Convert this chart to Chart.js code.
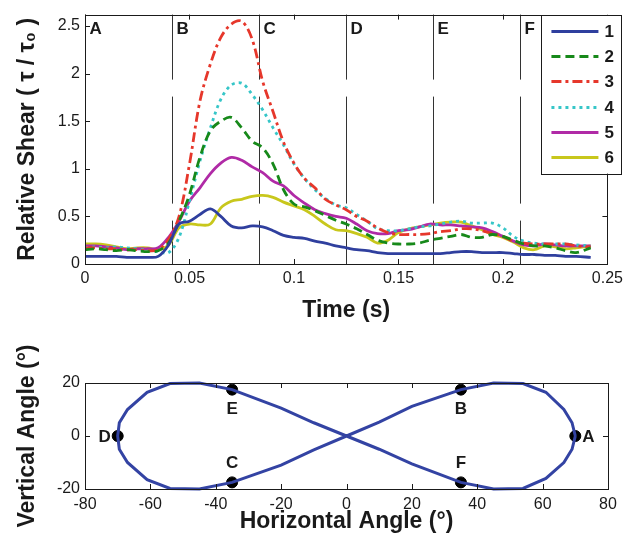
<!DOCTYPE html>
<html>
<head>
<meta charset="utf-8">
<script src="https://cdn.jsdelivr.net/npm/chart.js@4.4.0/dist/chart.umd.min.js"></script>
<style>
  body { margin: 0; background: #fff; }
  #wrap { position: relative; width: 628px; height: 545px; }
  canvas { position: absolute; left: 0; }
  #shear { top: 0; }
  #path { top: 300px; }
</style>
</head>
<body>
<div id="wrap">
  <canvas id="shear" width="628" height="340"></canvas>
  <canvas id="path" width="628" height="245"></canvas>
</div>
<script>
// ---- top plot: relative shear vs time ----
const time = [0, 0.005, 0.01, 0.015, 0.02, 0.025, 0.03, 0.035, 0.04, 0.045,
  0.05, 0.055, 0.06, 0.065, 0.07, 0.075, 0.08, 0.085, 0.09, 0.095,
  0.1, 0.105, 0.11, 0.115, 0.12, 0.125, 0.13, 0.135, 0.14, 0.145,
  0.15, 0.155, 0.16, 0.165, 0.17, 0.175, 0.18, 0.185, 0.19, 0.195,
  0.2, 0.205, 0.21, 0.215, 0.22, 0.225, 0.23, 0.235, 0.242];

const shear1 = [0.08, 0.08, 0.08, 0.08, 0.07, 0.07, 0.07, 0.08, 0.20, 0.42,
  0.45, 0.52, 0.58, 0.50, 0.40, 0.38, 0.40, 0.39, 0.35, 0.30,
  0.28, 0.27, 0.24, 0.22, 0.19, 0.17, 0.15, 0.14, 0.12, 0.11,
  0.11, 0.11, 0.11, 0.11, 0.11, 0.12, 0.13, 0.13, 0.12, 0.12,
  0.12, 0.11, 0.10, 0.10, 0.09, 0.09, 0.08, 0.08, 0.07];
const shear2 = [0.15, 0.16, 0.15, 0.14, 0.15, 0.14, 0.13, 0.14, 0.22, 0.45,
  0.73, 1.12, 1.40, 1.50, 1.54, 1.43, 1.29, 1.22, 1.05, 0.78,
  0.63, 0.60, 0.56, 0.51, 0.46, 0.42, 0.37, 0.31, 0.25, 0.22,
  0.21, 0.21, 0.22, 0.25, 0.27, 0.29, 0.31, 0.28, 0.28, 0.31,
  0.29, 0.25, 0.21, 0.19, 0.19, 0.17, 0.14, 0.12, 0.17];
const shear3 = [0.17, 0.17, 0.16, 0.16, 0.15, 0.15, 0.14, 0.15, 0.26, 0.50,
  1.05, 1.71, 2.10, 2.38, 2.52, 2.55, 2.36, 1.92, 1.60, 1.28,
  1.06, 0.90, 0.80, 0.68, 0.62, 0.57, 0.50, 0.45, 0.38, 0.33,
  0.31, 0.31, 0.31, 0.32, 0.34, 0.35, 0.37, 0.37, 0.35, 0.32,
  0.29, 0.24, 0.22, 0.21, 0.21, 0.21, 0.21, 0.19, 0.18];
const shear4 = [0.17, 0.18, 0.17, 0.18, 0.17, 0.16, 0.14, 0.13, 0.12, 0.28,
  0.66, 1.08, 1.43, 1.73, 1.88, 1.90, 1.78, 1.62, 1.43, 1.25,
  1.05, 0.90, 0.78, 0.69, 0.62, 0.59, 0.52, 0.45, 0.37, 0.35,
  0.35, 0.37, 0.39, 0.40, 0.42, 0.44, 0.45, 0.43, 0.43, 0.43,
  0.38, 0.29, 0.24, 0.22, 0.21, 0.21, 0.21, 0.20, 0.19];
const shear5 = [0.19, 0.19, 0.18, 0.17, 0.15, 0.16, 0.16, 0.17, 0.28, 0.45,
  0.66, 0.80, 0.95, 1.06, 1.12, 1.09, 1.02, 0.96, 0.87, 0.82,
  0.72, 0.64, 0.57, 0.53, 0.50, 0.48, 0.42, 0.35, 0.32, 0.32,
  0.35, 0.36, 0.39, 0.42, 0.41, 0.41, 0.40, 0.39, 0.38, 0.34,
  0.29, 0.24, 0.20, 0.19, 0.21, 0.20, 0.19, 0.19, 0.19];
const shear6 = [0.21, 0.21, 0.20, 0.18, 0.16, 0.17, 0.17, 0.15, 0.20, 0.38,
  0.42, 0.41, 0.42, 0.59, 0.66, 0.68, 0.71, 0.72, 0.70, 0.65,
  0.61, 0.57, 0.50, 0.42, 0.36, 0.35, 0.32, 0.28, 0.22, 0.25,
  0.33, 0.37, 0.39, 0.41, 0.43, 0.44, 0.44, 0.40, 0.36, 0.31,
  0.28, 0.23, 0.17, 0.15, 0.19, 0.18, 0.16, 0.17, 0.19];

const seriesNames = ['1', '2', '3', '4', '5', '6'];
const timeTicks = [0, 0.05, 0.1, 0.15, 0.2, 0.25];
const shearTicks = [0, 0.5, 1, 1.5, 2, 2.5];
const phaseNames = ['A', 'B', 'C', 'D', 'E', 'F'];
const phaseTimes = [0, 0.0417, 0.0833, 0.125, 0.1667, 0.2083];

// ---- bottom plot: figure-eight path ----
const pathH = [70, 69, 66.5, 61, 54, 45, 35, 20, 10, 0, -10, -20, -35, -45, -54, -61, -67, -69.5, -70,
  -69.5, -67, -61, -54, -45, -35, -20, -10, 0, 10, 20, 35, 45, 54, 61, 66.5, 69, 70];
const pathV = [0, -5, -10, -16, -19.8, -20, -17.5, -10.5, -5, 0, 5, 10.5, 17.5, 20, 19.8, 16.5, 10, 5, 0,
  -5, -10, -16.5, -19.8, -20, -17.5, -11, -5.2, 0, 5.2, 11.2, 17.5, 20, 19.8, 16.5, 10, 5, 0];
const pointH = [70, 35, -35, -70, -35, 35];
const pointV = [0, 17.5, -17.5, 0, 17.5, -17.5];
const angleTicksH = [-80, -60, -40, -20, 0, 20, 40, 60, 80];
const angleTicksV = [-20, 0, 20];

const FONT = "'Liberation Sans', Arial, sans-serif";
const INK = '#1a1a1a';

const colors = ['#2f3f9e', '#17891a', '#e6372b', '#36c6c8', '#b02aa6', '#c8c71c'];
const dashes = [[], [9, 5], [10, 4, 3, 4], [3, 4], [], []];

// inward tick marks on all four sides plus the box
const boxTicks = {
  id: 'boxTicks',
  afterDatasetsDraw(chart) {
    const { ctx, chartArea: a, scales: { x, y } } = chart;
    ctx.save();
    ctx.strokeStyle = INK;
    ctx.lineWidth = 1;
    ctx.setLineDash([]);
    ctx.beginPath();
    x.ticks.forEach(t => {
      const px = Math.round(x.getPixelForValue(t.value)) + 0.5;
      ctx.moveTo(px, a.bottom); ctx.lineTo(px, a.bottom - 5);
      ctx.moveTo(px, a.top); ctx.lineTo(px, a.top + 5);
    });
    y.ticks.forEach(t => {
      const py = Math.round(y.getPixelForValue(t.value)) + 0.5;
      ctx.moveTo(a.left, py); ctx.lineTo(a.left + 5, py);
      ctx.moveTo(a.right, py); ctx.lineTo(a.right - 5, py);
    });
    ctx.stroke();
    ctx.strokeRect(Math.round(a.left) + 0.5, Math.round(a.top) + 0.5,
      Math.round(a.right - a.left), Math.round(a.bottom - a.top));
    ctx.restore();
  }
};

// phase lines A-F across the shear plot
const phaseLines = {
  id: 'phaseLines',
  beforeDatasetsDraw(chart) {
    const { ctx, chartArea: a, scales: { x } } = chart;
    ctx.save();
    ctx.strokeStyle = '#333';
    ctx.lineWidth = 1;
    ctx.font = 'bold 17px ' + FONT;
    ctx.fillStyle = INK;
    ctx.textBaseline = 'middle';
    phaseTimes.forEach((t, i) => {
      const px = Math.round(x.getPixelForValue(t)) + 0.5;
      ctx.setLineDash([65, 17, 107, 17, 200]);
      ctx.beginPath();
      ctx.moveTo(px, a.top);
      ctx.lineTo(px, a.bottom);
      ctx.stroke();
      ctx.fillText(phaseNames[i], px + 4, a.top + 15);
    });
    ctx.restore();
  }
};

// boxed legend in the top-right corner
const boxLegend = {
  id: 'boxLegend',
  afterDraw(chart) {
    const { ctx, chartArea: a } = chart;
    const left = a.right - 66, top = a.top, w = 80, h = 159;
    ctx.save();
    ctx.fillStyle = '#fff';
    ctx.fillRect(left, top, w, h);
    ctx.strokeStyle = INK;
    ctx.lineWidth = 1;
    ctx.strokeRect(Math.round(left) + 0.5, Math.round(top) + 0.5, w, h);
    ctx.font = 'bold 17px ' + FONT;
    ctx.textBaseline = 'middle';
    chart.data.datasets.forEach((ds, i) => {
      const y = Math.round(top + 16 + i * 25.3) + 0.5;
      ctx.strokeStyle = ds.borderColor;
      ctx.lineWidth = 3;
      ctx.setLineDash(ds.borderDash);
      ctx.beginPath();
      ctx.moveTo(left + 10, y);
      ctx.lineTo(left + 57, y);
      ctx.stroke();
      ctx.fillStyle = INK;
      ctx.fillText(ds.label, left + 63, y + 1);
    });
    ctx.restore();
  }
};

// letters next to the path points
const pointLetters = {
  id: 'pointLetters',
  afterDatasetsDraw(chart) {
    const { ctx } = chart;
    const offsets = { A: [7, 0, 'left'], B: [0, 19, 'center'], C: [0, -20, 'center'],
      D: [-7, 0, 'right'], E: [0, 19, 'center'], F: [0, -20, 'center'] };
    const meta = chart.getDatasetMeta(1);
    ctx.save();
    ctx.font = 'bold 17px ' + FONT;
    ctx.fillStyle = INK;
    ctx.textBaseline = 'middle';
    meta.data.forEach((pt, i) => {
      const o = offsets[phaseNames[i]];
      ctx.textAlign = o[2];
      ctx.fillText(phaseNames[i], pt.x + o[0], pt.y + o[1] + 1);
    });
    ctx.restore();
  }
};

const shearSets = [shear1, shear2, shear3, shear4, shear5, shear6].map((vals, i) => ({
  label: seriesNames[i],
  data: vals.map((v, j) => ({ x: time[j], y: v })),
  borderColor: colors[i],
  borderDash: dashes[i],
  borderWidth: 2.8,
  pointRadius: 0,
  tension: 0.35,
  fill: false
}));

const tickFont = { family: FONT, size: 16 };
const titleFont = { family: FONT, size: 23, weight: 'bold' };

new Chart(document.getElementById('shear'), {
  type: 'line',
  data: { datasets: shearSets },
  options: {
    responsive: false,
    animation: false,
    layout: { padding: { top: 13, right: 20, left: 0, bottom: 0 } },
    plugins: { legend: { display: false }, tooltip: { enabled: false } },
    scales: {
      x: {
        type: 'linear',
        min: 0, max: 0.25,
        grid: { display: false, drawTicks: false },
        border: { display: false },
        afterBuildTicks: s => { s.ticks = timeTicks.map(v => ({ value: v })); },
        afterFit: s => { s.height = 76; },
        ticks: { font: tickFont, color: INK, padding: 5, maxRotation: 0,
          callback: v => String(v) },
        title: { display: true, text: 'Time (s)', font: titleFont, color: INK,
          padding: { top: 0, bottom: 16 } }
      },
      y: {
        min: 0, max: 2.62,
        grid: { display: false, drawTicks: false },
        border: { display: false },
        afterBuildTicks: s => { s.ticks = shearTicks.map(v => ({ value: v })); },
        afterFit: s => { s.width = 85; },
        ticks: { font: tickFont, color: INK, padding: 5, callback: v => String(v) },
        title: { display: true, text: 'Relative Shear ( τ / τ₀ )', font: titleFont, color: INK,
          padding: { top: 14, bottom: 0 } }
      }
    }
  },
  plugins: [phaseLines, boxTicks, boxLegend]
});

new Chart(document.getElementById('path'), {
  type: 'scatter',
  data: {
    datasets: [
      {
        data: pathH.map((h, i) => ({ x: h, y: pathV[i] })),
        showLine: true,
        borderColor: '#3343a3',
        borderWidth: 3,
        pointRadius: 0,
        tension: 0,
        clip: false
      },
      {
        data: pointH.map((h, i) => ({ x: h, y: pointV[i] })),
        pointRadius: 5.5,
        pointBackgroundColor: '#000',
        pointBorderColor: '#000',
        showLine: false,
        clip: false
      }
    ]
  },
  options: {
    responsive: false,
    animation: false,
    layout: { padding: { top: 83, right: 20, left: 0, bottom: 0 } },
    plugins: { legend: { display: false }, tooltip: { enabled: false } },
    scales: {
      x: {
        type: 'linear',
        min: -80, max: 80,
        grid: { display: false, drawTicks: false },
        border: { display: false },
        afterBuildTicks: s => { s.ticks = angleTicksH.map(v => ({ value: v })); },
        afterFit: s => { s.height = 56; },
        ticks: { font: tickFont, color: INK, padding: 6, maxRotation: 0,
          callback: v => String(v) },
        title: { display: true, text: 'Horizontal Angle (°)', font: titleFont, color: INK,
          padding: { top: 0, bottom: 10 } }
      },
      y: {
        min: -20, max: 20,
        grid: { display: false, drawTicks: false },
        border: { display: false },
        afterBuildTicks: s => { s.ticks = angleTicksV.map(v => ({ value: v })); },
        afterFit: s => { s.width = 85; },
        ticks: { font: tickFont, color: INK, padding: 5, callback: v => String(v) },
        title: { display: true, text: 'Vertical Angle (°)', font: titleFont, color: INK,
          padding: { top: 14, bottom: 0 } }
      }
    }
  },
  plugins: [boxTicks, pointLetters]
});
</script>
</body>
</html>
